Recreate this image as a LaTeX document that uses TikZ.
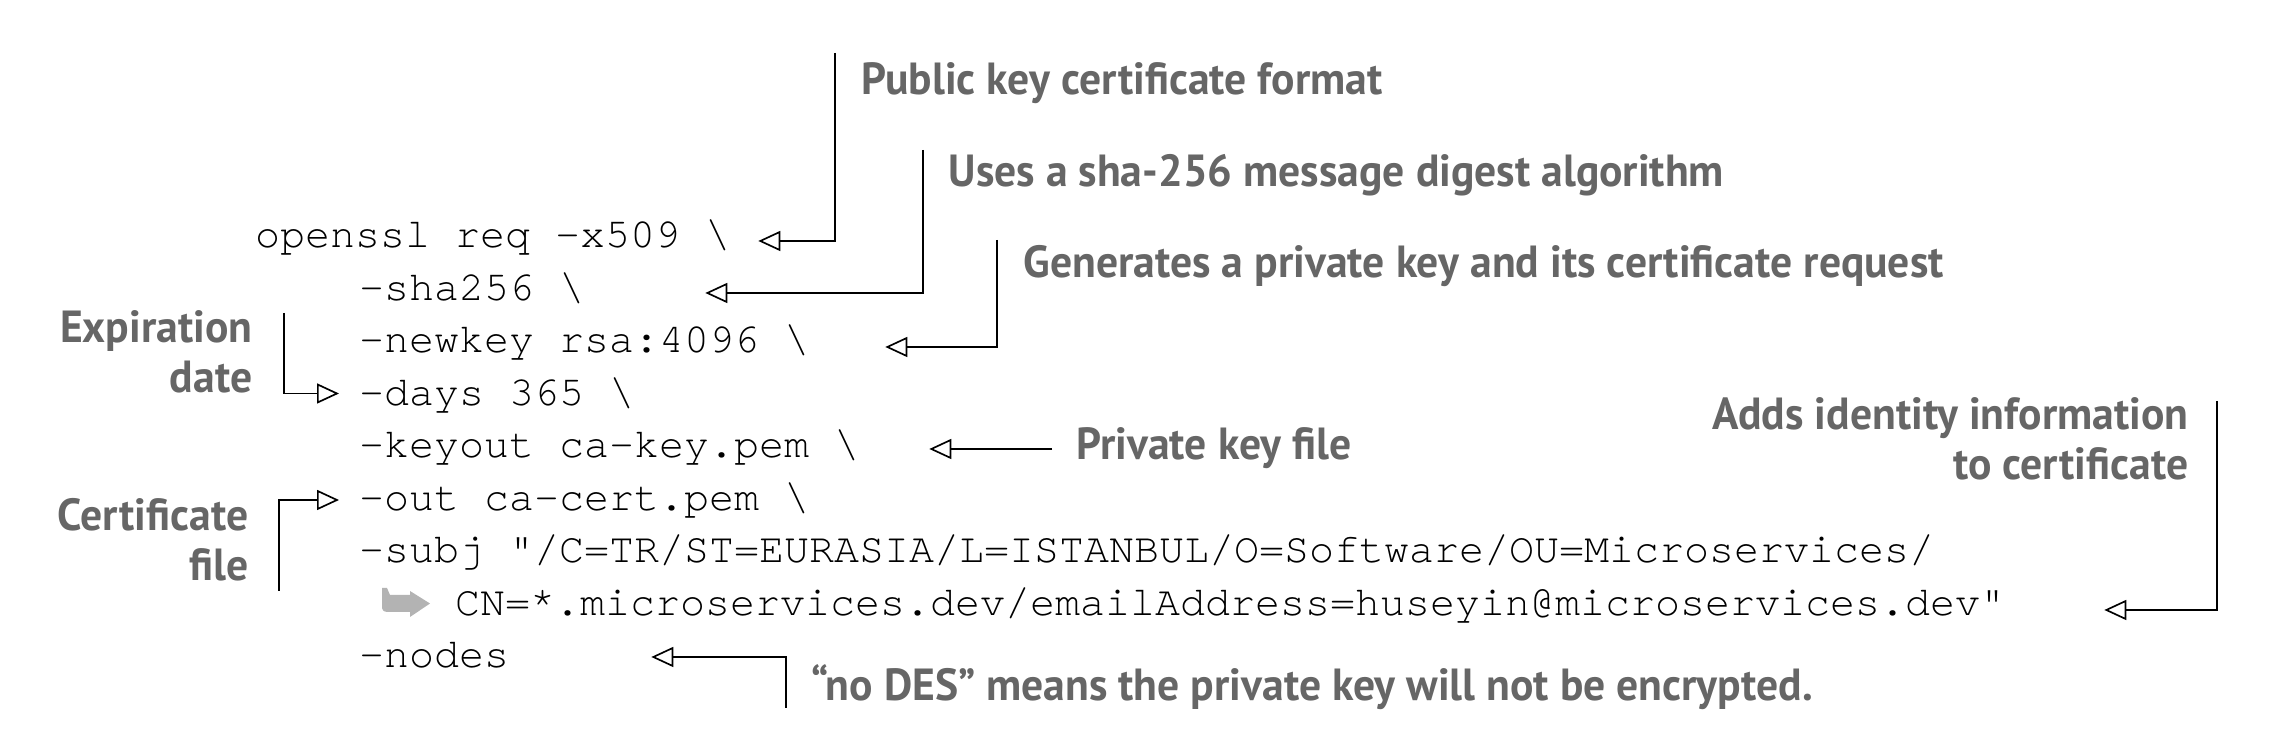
\documentclass[tikz,border=0pt]{standalone}
\usepackage{fontspec}
\setmonofont{texgyrecursor-regular.otf}
\newfontfamily\lblfont{PT Sans}[FakeStretch=0.97]
\usetikzlibrary{arrows.meta,calc}
\definecolor{lblgray}{HTML}{666666}
\definecolor{hookgray}{HTML}{B3B3B3}

\begin{document}
\begin{tikzpicture}[x=0.3pt,y=-0.3pt,
	code/.style={inner sep=0pt, anchor=base west, font=\ttfamily\fontsize{12.5}{15}\selectfont},
	lbl/.style={inner sep=0pt, text=lblgray, font=\lblfont\bfseries\fontsize{13.5}{15}\selectfont},
	callout/.style={line width=0.5pt, -{Triangle[open,length=6.6pt,width=6pt]}}]
	
	\useasboundingbox (0,0) rectangle (2282,756);
	
	% the command
	\node[code] (x509) at (255,248) {openssl req -x509 \textbackslash};
	\node[code] (sha) at (359,300.5) {-sha256 \textbackslash};
	\node[code] (newkey) at (359,353) {-newkey rsa:4096 \textbackslash};
	\node[code] (days) at (359,405.5) {-days 365 \textbackslash};
	\node[code] (keyout) at (359,458) {-keyout ca-key.pem \textbackslash};
	\node[code] (out) at (359,510.5) {-out ca-cert.pem \textbackslash};
	\node[code] (subj) at (359,563) {-subj "/C=TR/ST=EURASIA/L=ISTANBUL/O=Software/OU=Microservices/};
	\node[code] (cn) at (455,615.5) {CN=*.microservices.dev/emailAddress=huseyin@microservices.dev"};
	\node[code] (nodes) at (359,668) {-nodes};
	
	% line continues
	\fill[hookgray] (382,588) -- (387,588) -- (390,595) -- (410,595) -- (410,591) -- (430,603.5)
		-- (410,617) -- (410,612) -- (388,612) .. controls (383,612) and (382,610) .. (382,606) -- cycle;
	
	% labels
	\node[lbl, anchor=base west] (lblpub) at (861,95) {Public key certificate format};
	\node[lbl, anchor=base west] (lblsha) at (948,187) {Uses a sha-256 message digest algorithm};
	\node[lbl, anchor=base west] (lblgen) at (1023,278) {Generates a private key and its certificate request};
	\node[lbl, anchor=base east, align=right] (lblexp) at (253,393) {Expiration\\date};
	\node[lbl, anchor=base west] (lblpriv) at (1076,460) {Private key file};
	\node[lbl, anchor=base east, align=right] (lblcert) at (249,581) {Certificate\\file};
	\node[lbl, anchor=base east, align=right] (lbladds) at (2189,480) {Adds identity information\\to certificate};
	\node[lbl, anchor=base west] (lbldes) at (811,701) {“no DES” means the private key will not be encrypted.};
	
	\coordinate (pubtop) at (835,53);
	\coordinate (shatop) at (923,150);
	\coordinate (gentop) at (997,240);
	\coordinate (exptop) at (284,313);
	\coordinate (privend) at (1052,449);
	\coordinate (certbot) at (279,591);
	\coordinate (addstop) at (2217,401);
	\coordinate (desbot) at (786,708);
	
	\draw[callout] (pubtop) |- ($(x509.base east)+(27,-7)$);
	\draw[callout] (shatop) |- ($(sha.base east)+(120,-7.5)$);
	\draw[callout] (gentop) |- ($(newkey.base east)+(75,-6)$);
	\draw[callout] (exptop) |- ($(days.base west)+(-20,-12)$);
	\draw[callout] (privend) -- ($(keyout.base east)+(69,-9)$);
	\draw[callout] (certbot) |- ($(out.base west)+(-20,-10.5)$);
	\draw[callout] (addstop) |- ($(cn.base east)+(98,-5.5)$);
	\draw[callout] (desbot) |- ($(nodes.base east)+(141,-11)$);
	
\end{tikzpicture}
\end{document}
